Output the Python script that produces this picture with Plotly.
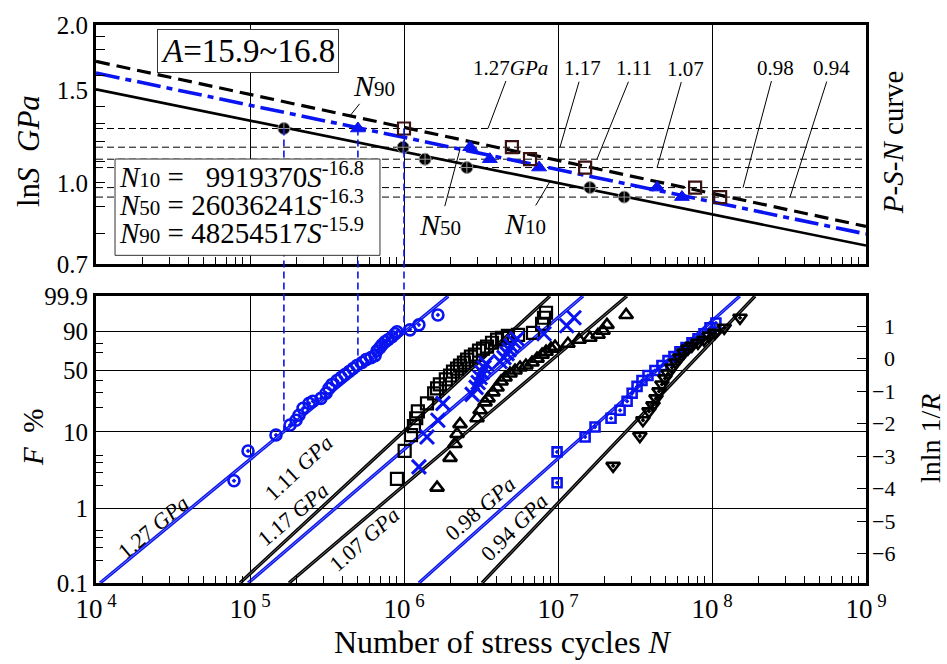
import numpy as np
import plotly.graph_objects as go

# ---------------- data ----------------
stress_gpa = [1.27, 1.17, 1.11, 1.07, 0.98, 0.94]

# Weibull fits of the life distributions (shape b, scale eta in cycles)
weibull_shape = [1.698, 1.907, 1.765, 1.749, 1.842, 2.165]
weibull_scale = [6.21e5, 3.22e6, 4.87e6, 9.29e6, 5.31e7, 7.80e7]

# failure data: cycles to failure and cumulative failure probability F (%)
n_127 = [7.87e4, 9.71e4, 1.475e5, 1.82e5, 1.99e5, 2.08e5, 2.21e5, 2.42e5, 2.56e5, 2.89e5,
         3.12e5, 3.26e5, 3.41e5, 3.67e5, 3.90e5, 4.14e5, 4.40e5, 4.67e5, 4.95e5, 5.34e5,
         5.67e5, 6.11e5, 6.49e5, 6.68e5, 6.98e5, 7.20e5, 7.53e5, 7.87e5, 8.36e5, 8.75e5,
         9.01e5, 1.094e6, 1.25e6, 1.66e6]
f_127 = [2.31, 5.68, 9.10, 12.2, 14.0, 16.1, 19.6, 22.4, 23.7, 25.6,
         29.2, 33.1, 36.5, 40.1, 43.0, 46.0, 49.1, 52.3, 55.6, 59.0,
         62.3, 64.6, 66.8, 72.3, 75.6, 78.6, 81.6, 83.5, 86.1, 88.5,
         90.0, 91.3, 94.2, 97.9]

n_117 = [9.00e5, 1.01e6, 1.11e6, 1.16e6, 1.20e6, 1.23e6, 1.41e6, 1.57e6, 1.64e6, 1.71e6,
         1.87e6, 1.99e6, 2.08e6, 2.21e6, 2.31e6, 2.45e6, 2.57e6, 2.72e6, 2.89e6, 3.07e6,
         3.26e6, 3.46e6, 3.73e6, 4.02e6, 4.33e6, 4.73e6, 5.50e6, 6.88e6, 7.88e6, 8.11e6,
         8.36e6]
f_117 = [2.45, 5.68, 9.10, 11.8, 14.8, 18.0, 22.4, 29.2, 33.1, 36.5,
         41.1, 45.0, 49.1, 52.3, 55.6, 59.0, 62.3, 65.7, 67.9, 72.3,
         74.5, 76.6, 80.6, 83.5, 85.2, 86.9, 87.7, 89.2, 94.7, 97.1,
         98.4]

n_111 = [1.25e6, 1.41e6, 1.66e6, 1.79e6, 2.77e6, 2.94e6, 3.03e6, 3.12e6, 3.21e6, 3.31e6,
         3.41e6, 4.20e6, 4.46e6, 4.67e6, 4.81e6, 4.95e6, 5.18e6, 5.42e6, 8.11e6, 1.14e7,
         1.27e7]
f_111 = [3.52, 8.59, 14.0, 22.4, 28.4, 33.9, 38.3, 43.0, 48.1, 53.4,
         57.8, 60.1, 64.6, 69.0, 73.4, 77.6, 81.6, 84.4, 88.5, 93.7,
         97.1]

n_107 = [1.64e6, 1.99e6, 2.14e6, 2.21e6, 2.31e6, 2.98e6, 3.12e6, 3.36e6, 3.51e6, 3.78e6,
         4.02e6, 4.27e6, 4.53e6, 4.88e6, 5.26e6, 5.67e6, 6.19e6, 6.78e6, 7.31e6, 7.88e6,
         8.36e6, 9.01e6, 9.57e6, 1.16e7, 1.37e7, 1.61e7, 1.82e7, 1.96e7, 2.08e7, 2.77e7]
f_107 = [1.87, 4.61, 6.99, 9.38, 12.5, 14.8, 18.5, 23.0, 25.6, 29.9,
         33.9, 39.2, 43.0, 47.0, 50.2, 53.4, 55.6, 59.0, 63.4, 67.9,
         71.2, 74.5, 76.6, 79.6, 83.5, 85.2, 87.7, 90.7, 94.2, 97.9]

n_098 = [9.86e6, 9.86e6, 1.50e7, 1.74e7, 2.21e7, 2.53e7, 2.81e7, 3.03e7, 3.26e7, 3.51e7,
         3.84e7, 4.26e7, 4.73e7, 5.18e7, 5.66e7, 6.19e7, 6.78e7, 7.41e7, 8.11e7, 8.87e7,
         9.71e7, 1.06e8]
f_098 = [2.17, 5.52, 8.59, 11.5, 14.8, 18.5, 23.7, 29.2, 34.8, 40.1,
         45.0, 50.2, 55.6, 61.2, 65.7, 71.2, 75.6, 80.6, 84.4, 88.5,
         92.6, 95.1]

n_094 = [2.28e7, 3.40e7, 3.56e7, 3.90e7, 4.14e7, 4.33e7, 4.53e7, 4.73e7, 4.95e7, 5.18e7,
         5.50e7, 5.84e7, 6.19e7, 6.58e7, 6.98e7, 7.41e7, 8.11e7, 8.87e7, 9.57e7, 1.045e8,
         1.20e8, 1.52e8]
f_094 = [3.63, 8.84, 14.0, 18.0, 21.2, 25.6, 30.7, 36.5, 42.1, 47.0,
         53.4, 59.0, 64.6, 70.2, 74.5, 77.6, 80.6, 83.5, 86.9, 89.2,
         92.6, 97.1]

# P-S-N curves  N_p = C * S^(-m)
psn_C = [9919370, 26036241, 48254517]
psn_m = [16.8, 16.3, 15.9]
psn_pct = ["10", "50", "90"]

# percentile lives at each stress level
n10_life = [1.66e5, 9.87e5, 1.37e6, 2.56e6, 1.61e7, 2.69e7]
n50_life = [5.02e5, 2.69e6, 3.61e6, 7.54e6, 4.40e7, 6.38e7]
n90_life = [1.00e6, 5.02e6, 6.58e6, 1.50e7, 7.77e7, 1.13e8]

# axis ticks
f_major = [0.1, 1, 10, 50, 90, 99.9]
f_minor = [0.2, 0.3, 0.4, 0.5, 2, 3, 4, 5, 20, 30, 40, 70, 80]
lnln_ticks = [-6, -5, -4, -3, -2, -1, 0, 1]
s_major = [0.7, 1.0, 1.5, 2.0]
s_minor = [0.8, 0.9, 1.1, 1.2, 1.3, 1.4, 1.6, 1.7, 1.8, 1.9]

# ---------------- helpers ----------------
FONT = "Liberation Serif"
BLUE = "#0a14f0"
TOP_DOM = [0.5712, 1.0]
BOT_DOM = [0.0, 0.5142]
S_RANGE = [np.log10(0.7), np.log10(2.0)]


def lnln(f_pct):
    f = np.asarray(f_pct, dtype=float) / 100.0
    return np.log(-np.log(1.0 - f))


Y_LO, Y_HI = float(lnln(0.1)), float(lnln(99.9))


def paper_x(n):
    return (np.log10(n) - 4.0) / 5.0


def paper_y_top(s):
    return TOP_DOM[0] + (np.log10(s) - S_RANGE[0]) / (S_RANGE[1] - S_RANGE[0]) * (TOP_DOM[1] - TOP_DOM[0])


def paper_y_bot(f_pct):
    return BOT_DOM[0] + (lnln(f_pct) - Y_LO) / (Y_HI - Y_LO) * (BOT_DOM[1] - BOT_DOM[0])


def psn_stress(n, C, m):
    return (C / np.asarray(n, dtype=float)) ** (1.0 / m)


fig = go.Figure()

# ---------------- top panel: P-S-N curves ----------------
n_span = np.array([1e4, 1e9])
for s in stress_gpa:
    fig.add_trace(go.Scatter(x=n_span, y=[s, s], mode="lines", xaxis="x", yaxis="y",
                             line=dict(color="black", width=1, dash="7px,4px"), hoverinfo="skip"))

curve_styles = [dict(color="black", width=2.6),
                dict(color=BLUE, width=3.6, dash="24px,6px,6px,6px"),
                dict(color="black", width=3.2, dash="14px,7px")]
for C, m, st in zip(psn_C, psn_m, curve_styles):
    fig.add_trace(go.Scatter(x=n_span, y=psn_stress(n_span, C, m), mode="lines",
                             xaxis="x", yaxis="y", line=st, hoverinfo="skip"))

fig.add_trace(go.Scatter(x=n10_life, y=stress_gpa, mode="markers", xaxis="x", yaxis="y",
                         marker=dict(symbol="circle-cross", size=12, color="black",
                                     line=dict(color="#9a9a9a", width=1))))
fig.add_trace(go.Scatter(x=n50_life, y=stress_gpa, mode="markers", xaxis="x", yaxis="y",
                         marker=dict(symbol="triangle-up", size=13, color=BLUE,
                                     line=dict(color=BLUE, width=1))))
fig.add_trace(go.Scatter(x=n90_life, y=stress_gpa, mode="markers", xaxis="x", yaxis="y",
                         marker=dict(symbol="square-open", size=12, color="#3a1212",
                                     line=dict(color="#3a1212", width=2.2))))

# ---------------- bottom panel: Weibull probability plot ----------------
for b, eta, col in zip(weibull_shape, weibull_scale,
                       ["blue", "black", "blue", "black", "blue", "black"]):
    yy = np.array([Y_LO, Y_HI])
    xx = eta * np.exp(yy / b)
    c = BLUE if col == "blue" else "black"
    fig.add_trace(go.Scatter(x=xx, y=yy, mode="lines", xaxis="x2", yaxis="y2",
                             line=dict(color=c, width=3.4), hoverinfo="skip"))
    fig.add_trace(go.Scatter(x=xx, y=yy, mode="lines", xaxis="x2", yaxis="y2",
                             line=dict(color="rgba(255,255,255,0.55)", width=0.8), hoverinfo="skip"))

series = [
    (n_127, f_127, "circle-open-dot", 11, BLUE, 2.6),
    (n_117, f_117, "square-open", 12, "black", 2.2),
    (n_111, f_111, "x-thin-open", 14, BLUE, 3.0),
    (n_107, f_107, "triangle-up-open", 12, "black", 2.6),
    (n_098, f_098, "square-open-dot", 9, BLUE, 2.6),
    (n_094, f_094, "triangle-down-open-dot", 12, "black", 2.6),
]
for n, f, sym, size, col, lw in series:
    fig.add_trace(go.Scatter(x=n, y=lnln(f), mode="markers", xaxis="x2", yaxis="y2",
                             marker=dict(symbol=sym, size=size, color=col,
                                         line=dict(color=col, width=lw))))

# right-hand lnln axis companion
fig.add_trace(go.Scatter(x=[weibull_scale[0]], y=[0], mode="markers", xaxis="x2", yaxis="y3",
                         marker=dict(opacity=0), hoverinfo="skip"))

# ---------------- shapes ----------------
shapes = []
# connectors between panels (1.27 GPa percentiles)
for life, pct in zip([n10_life[0], n50_life[0], n90_life[0]], [10, 50, 90]):
    px = paper_x(life)
    shapes.append(dict(type="line", xref="paper", yref="paper", x0=px, x1=px,
                       y0=float(paper_y_top(stress_gpa[0])), y1=float(paper_y_bot(pct)),
                       line=dict(color=BLUE, width=1.6, dash="7px,4px"), layer="above"))
# equation box
EQ_BOX = dict(x0=0.0247, x1=0.3688, y0=0.5872, y1=0.7598)
shapes.append(dict(type="rect", xref="paper", yref="paper", **EQ_BOX,
                   fillcolor="white", line=dict(color="#333", width=1), layer="above"))

# ---------------- annotations ----------------
ann = []
CENTER = dict(xanchor="center", yanchor="middle")
ann.append(dict(xref="paper", yref="paper", x=0.1974, y=0.9537, showarrow=False,
                text="<i>A</i>=15.9~16.8", font=dict(family=FONT, size=33, color="black"),
                bgcolor="white", bordercolor="#333", borderwidth=1, borderpad=3, **CENTER))

coef_text = ["\u00a0\u00a0\u00a0" + str(psn_C[0])] + [" " + str(c) for c in psn_C[1:]]
eq_rows_y = [0.7313, 0.6815, 0.6317]
for p, ct, m, yrow in zip(psn_pct, coef_text, psn_m, eq_rows_y):
    ann.append(dict(xref="paper", yref="paper", x=0.0275, y=yrow, showarrow=False,
                    xanchor="left", yanchor="middle",
                    text=("<i>N</i><span style='font-size:21px'>" + p + "</span> =" + ct
                          + "<i>S</i><sup>-" + str(m) + "</sup>"),
                    font=dict(family=FONT, size=29, color="black")))

# right-hand lnln 1/R tick labels
for v in lnln_ticks:
    ann.append(dict(xref="paper", yref="y2", x=1.0405, y=v, showarrow=False,
                    xanchor="right", yanchor="middle",
                    text=("\u2212" + str(-v)) if v < 0 else str(v),
                    font=dict(family=FONT, size=22, color="black")))

# stress level labels with leaders
stress_text = ["1.27<i>GPa</i>", "1.17", "1.11", "1.07", "0.98", "0.94"]
leader_n = [3.51e6, 1.03e7, 1.79e7, 4.40e7, 1.59e8, 3.21e8]
leader_off = [(23, -61), (23, -79), (37, -91), (28, -99), (32, -120), (41, -129)]
for s, t, ln_, (ax, ay) in zip(stress_gpa, stress_text, leader_n, leader_off):
    ann.append(dict(xref="x", yref="y", x=np.log10(ln_), y=np.log10(s), text=t,
                    showarrow=True, arrowhead=0, arrowwidth=1, arrowcolor="black",
                    ax=ax, ay=ay, standoff=0, font=dict(family=FONT, size=21, color="black")))

# curve labels
curve_pt_n = [8.87e6, 2.31e6, 4.46e5]
curve_off = [(-25, 42), (-20, 75), (24, -30)]
for lab, pn, (ax, ay), C, m in zip(psn_pct, curve_pt_n, curve_off, psn_C, psn_m):
    ann.append(dict(xref="x", yref="y", x=np.log10(pn), y=float(np.log10(psn_stress(pn, C, m))),
                    text="<i>N</i><span style='font-size:21px'>" + lab + "</span>",
                    showarrow=True, arrowhead=0, arrowwidth=1, arrowcolor="black",
                    ax=ax, ay=ay, font=dict(family=FONT, size=30, color="black")))

# Weibull line labels
line_lab = ["1.27 <i>GPa</i>", "1.11 <i>GPa</i>", "1.17 <i>GPa</i>", "1.07 <i>GPa</i>",
            "0.98 <i>GPa</i>", "0.94 <i>GPa</i>"]
line_lab_n = [2.34e4, 2.08e5, 1.90e5, 5.50e5, 3.12e6, 5.18e6]
line_lab_f = [-5.19, -3.36, -4.80, -5.56, -4.61, -5.19]
line_lab_ang = [-40, -43, -40, -41, -41, -45]
for t, nn, yy, a in zip(line_lab, line_lab_n, line_lab_f, line_lab_ang):
    ann.append(dict(xref="x2", yref="y2", x=np.log10(nn), y=yy, text=t, showarrow=False,
                    textangle=a, font=dict(family=FONT, size=22, color="black"), **CENTER))

# axis titles
ann += [
    dict(xref="paper", yref="paper", x=-0.0883, y=0.774, text="ln<i>S</i>\u00a0\u00a0<i>GPa</i>",
         textangle=-90, showarrow=False, font=dict(family=FONT, size=31, color="black"), **CENTER),
    dict(xref="paper", yref="paper", x=-0.0818, y=0.2598, text="<i>F</i>\u00a0\u00a0%",
         textangle=-90, showarrow=False, font=dict(family=FONT, size=29, color="black"), **CENTER),
    dict(xref="paper", yref="paper", x=1.0831, y=0.2598, text="lnln 1/<i>R</i>",
         textangle=-90, showarrow=False, font=dict(family=FONT, size=28, color="black"), **CENTER),
    dict(xref="paper", yref="paper", x=1.035, y=0.790, text="<i>P</i>-<i>S</i>-<i>N</i> curve",
         textangle=-90, showarrow=False, font=dict(family=FONT, size=29, color="black"), **CENTER),
    dict(xref="paper", yref="paper", x=0.5286, y=-0.105, text="Number of stress cycles <i>N</i>",
         showarrow=False, font=dict(family=FONT, size=32, color="black"), **CENTER),
]

# ---------------- axes ----------------
decades = [10.0 ** k for k in range(4, 10)]
x_minor = [k * 10.0 ** e for e in range(4, 9) for k in range(2, 10)]
ln_ticks = [float(np.exp(v)) for v in range(10, 21)]

xbase = dict(type="log", range=[4, 9], showline=True, linewidth=3, linecolor="black",
             mirror=True, showgrid=True, gridcolor="black", gridwidth=1,
             tickvals=decades, ticks="inside", ticklen=9, tickwidth=1.3, tickcolor="black",
             minor=dict(tickvals=x_minor, ticks="inside", ticklen=7, tickwidth=1,
                        tickcolor="black", showgrid=False),
             zeroline=False)

fig.update_layout(
    width=947, height=664, margin=dict(l=96, r=81, t=21, b=81),
    paper_bgcolor="white", plot_bgcolor="white", showlegend=False,
    font=dict(family=FONT, color="black"),
    xaxis=dict(xbase, anchor="y", domain=[0, 1], showticklabels=False),
    yaxis=dict(type="log", range=S_RANGE, domain=TOP_DOM, anchor="x",
               showline=True, linewidth=3, linecolor="black", mirror=True,
               showgrid=False, zeroline=False,
               tickvals=s_major, ticktext=["0.7", "1.0", "1.5", "2.0"],
               ticks="inside", ticklen=9, tickwidth=1.3, tickcolor="black",
               minor=dict(tickvals=s_minor, ticks="inside", ticklen=9, tickwidth=1,
                          tickcolor="black", showgrid=False),
               tickfont=dict(family=FONT, size=25)),
    xaxis2=dict(xbase, anchor="y2", domain=[0, 1],
                ticktext=["10<sup>\u00a0" + str(k) + "</sup>" for k in range(4, 10)],
                tickfont=dict(family=FONT, size=27)),
    yaxis2=dict(range=[Y_LO, Y_HI], domain=BOT_DOM, anchor="x2",
                showline=True, linewidth=3, linecolor="black", mirror=True,
                showgrid=True, gridcolor="black", gridwidth=1, zeroline=False,
                tickvals=[float(v) for v in lnln(f_major)],
                ticktext=["0.1", "1", "10", "50", "90", "99.9"],
                ticks="inside", ticklen=9, tickwidth=1.3, tickcolor="black",
                minor=dict(tickvals=[float(v) for v in lnln(f_minor)], ticks="inside",
                           ticklen=7, tickwidth=1, tickcolor="black", showgrid=False),
                tickfont=dict(family=FONT, size=25)),
    yaxis3=dict(range=[Y_LO, Y_HI], overlaying="y2", side="right", anchor="x2",
                showline=False, showgrid=False, zeroline=False,
                tickvals=lnln_ticks, showticklabels=False,
                ticks="inside", ticklen=9, tickwidth=1.3, tickcolor="black"),
    xaxis3=dict(type="log", range=[4, 9], overlaying="x", side="top", anchor="y",
                showline=False, showgrid=False, zeroline=False, showticklabels=False,
                tickvals=ln_ticks, ticks="inside", ticklen=9, tickwidth=1, tickcolor="black"),
    xaxis4=dict(type="log", range=[4, 9], overlaying="x2", side="top", anchor="y2",
                showline=False, showgrid=False, zeroline=False, showticklabels=False,
                tickvals=ln_ticks, ticks="inside", ticklen=9, tickwidth=1, tickcolor="black"),
    shapes=shapes,
    annotations=ann,
)

fig.write_html("out.html")
